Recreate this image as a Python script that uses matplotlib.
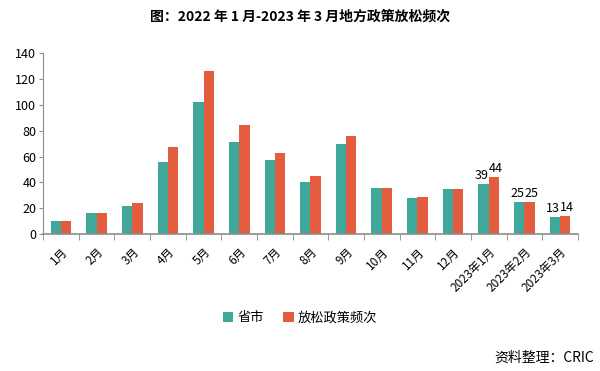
import numpy as np
import matplotlib
matplotlib.use("Agg")
import matplotlib.pyplot as plt

plt.rcParams['font.family'] = ['Noto Sans CJK SC', 'DejaVu Sans']

months = ["1月", "2月", "3月", "4月", "5月", "6月", "7月", "8月", "9月", "10月",
          "11月", "12月", "2023年1月", "2023年2月", "2023年3月"]
cities = [10, 16, 22, 56, 102, 71, 57, 40, 70, 36, 28, 35, 39, 25, 13]
policies = [10, 16, 24, 67, 126, 84, 63, 45, 76, 36, 29, 35, 44, 25, 14]
labeled = [12, 13, 14]

TEAL = "#3fa89b"
ORANGE = "#e35c3e"
GRAY = "#8c8c8c"

fig = plt.figure(figsize=(6, 3.71), dpi=100)
ax = fig.add_axes([0.072, 0.369, 0.891, 0.488])

x = np.arange(len(months))
w = 0.29
b1 = ax.bar(x - w / 2, cities, w, color=TEAL, label="省市")
b2 = ax.bar(x + w / 2, policies, w, color=ORANGE, label="放松政策频次")

for i in labeled:
    ax.text(x[i] - w / 2 - 0.05, cities[i] + 1.5, str(cities[i]), ha="center", va="bottom", fontsize=9)
    ax.text(x[i] + w / 2 + 0.05, policies[i] + 1.5, str(policies[i]), ha="center", va="bottom", fontsize=9)

ax.set_xlim(-0.5, len(months) - 0.5)
ax.set_ylim(0, 140)
ax.set_yticks(range(0, 141, 20))
ax.tick_params(axis="y", labelsize=9, length=3, color=GRAY, pad=2)

ax.set_xticks(x)
ax.set_xticklabels(months, rotation=45, ha="right", rotation_mode="anchor", fontsize=8.5)
ax.tick_params(axis="x", length=0, pad=8)
ax.set_xticks(np.arange(-0.5, len(months)), minor=True)
ax.tick_params(axis="x", which="minor", length=4, color=GRAY)

for s in ["top", "right"]:
    ax.spines[s].set_visible(False)
ax.spines["left"].set_color(GRAY)
ax.spines["bottom"].set_color(GRAY)
ax.spines["bottom"].set_linewidth(1.2)

fig.text(0.5, 0.955, "图：2022 年 1 月-2023 年 3 月地方政策放松频次", ha="center", va="center",
         fontsize=10, fontweight="bold")

fig.legend(handles=[b1, b2], loc="center", bbox_to_anchor=(0.5, 0.143), ncol=2, frameon=False,
           fontsize=9.5, handlelength=0.8, handleheight=0.8, handletextpad=0.3, columnspacing=1.5)

fig.text(0.99, 0.035, "资料整理：CRIC", ha="right", va="center", fontsize=10)

fig.savefig("out.png", dpi=100)
